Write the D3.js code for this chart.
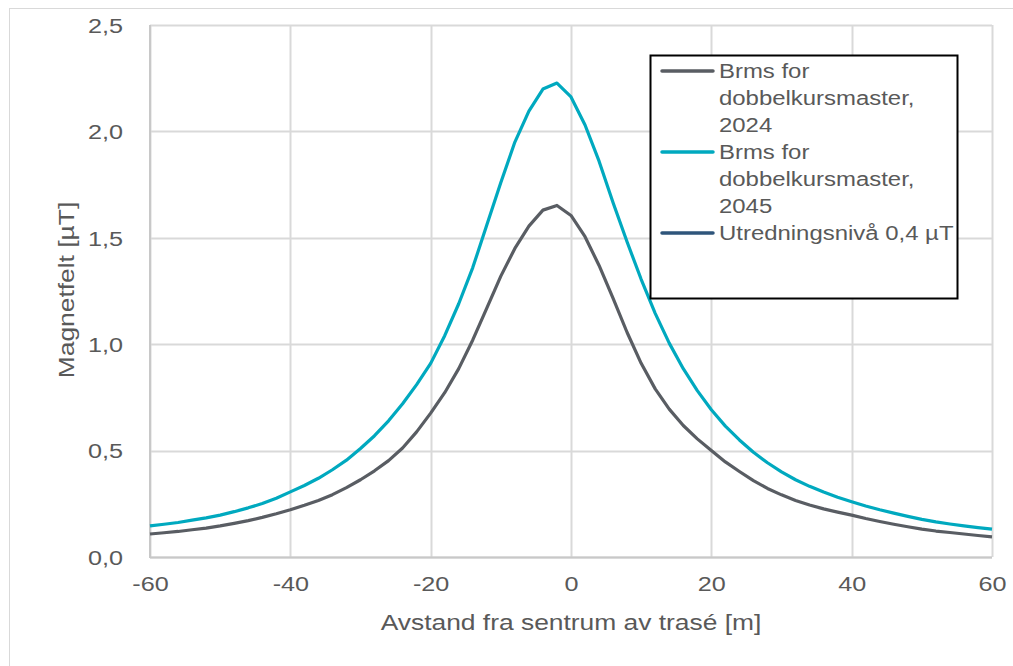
<!DOCTYPE html>
<html>
<head>
<meta charset="utf-8">
<script src="https://cdn.jsdelivr.net/npm/d3@7"></script>
<style>
  html, body { margin: 0; padding: 0; background: #fff; }
  svg { display: block; font-family: "Liberation Sans", Arial, sans-serif; }
</style>
</head>
<body>
<svg id="chart" width="1013" height="666"></svg>
<script>
// Distance from the centre of the route [m]
const distances = d3.range(-60, 61, 2);

// Brms for dobbelkursmaster, 2024 [µT]
const brms2024 = [
  0.108, 0.114, 0.120, 0.128, 0.136, 0.146, 0.158, 0.171, 0.186, 0.203,
  0.222, 0.243, 0.266, 0.293, 0.326, 0.363, 0.405, 0.453, 0.512, 0.588,
  0.676, 0.772, 0.885, 1.020, 1.170, 1.320, 1.450, 1.555, 1.630, 1.652,
  1.605, 1.505, 1.370, 1.215, 1.055, 0.910, 0.790, 0.695, 0.618, 0.555,
  0.500, 0.447, 0.402, 0.359, 0.322, 0.292, 0.266, 0.244, 0.226, 0.211,
  0.197, 0.181, 0.167, 0.154, 0.142, 0.131, 0.122, 0.115, 0.108, 0.101,
  0.095
];

// Brms for dobbelkursmaster, 2045 [µT]
const brms2045 = [
  0.146, 0.154, 0.162, 0.173, 0.184, 0.197, 0.213, 0.231, 0.251, 0.276,
  0.306, 0.336, 0.370, 0.410, 0.455, 0.510, 0.570, 0.640, 0.720, 0.810,
  0.910, 1.040, 1.190, 1.360, 1.560, 1.760, 1.950, 2.095, 2.199, 2.227,
  2.162, 2.030, 1.860, 1.665, 1.480, 1.305, 1.145, 1.005, 0.885, 0.782,
  0.692, 0.615, 0.550, 0.492, 0.443, 0.400, 0.363, 0.332, 0.305, 0.281,
  0.260, 0.240, 0.222, 0.206, 0.191, 0.177, 0.165, 0.155, 0.146, 0.138,
  0.131
];

// Third legend series (no visible points in the plot)
const utredningsniva = [];

const seriesNames = [
  ["Brms for", "dobbelkursmaster,", "2024"],
  ["Brms for", "dobbelkursmaster,", "2045"],
  ["Utredningsnivå 0,4 µT"]
];
const seriesColors = ["#595d63", "#00a9bf", "#2f557b"];

const xTicks = [-60, -40, -20, 0, 20, 40, 60];
const yTicks = [0, 0.5, 1.0, 1.5, 2.0, 2.5];
const xTitle = "Avstand fra sentrum av trasé [m]";
const yTitle = "Magnetfelt [µT]";

const svg = d3.select("#chart");
const textColor = "#595959";
const gridColor = "#d9d9d9";
const stretch = 1.2;

// outer chart border
svg.append("rect")
  .attr("x", 9.5).attr("y", 8.5)
  .attr("width", 1010).attr("height", 670)
  .attr("fill", "none").attr("stroke", "#d9d9d9").attr("stroke-width", 1);

const x = d3.scaleLinear().domain([-60, 60]).range([150, 992]);
const y = d3.scaleLinear().domain([0, 2.5]).range([557, 25]);

// grid
svg.append("g").selectAll("line").data(xTicks).join("line")
  .attr("x1", d => Math.round(x(d)) + 0.5).attr("x2", d => Math.round(x(d)) + 0.5)
  .attr("y1", y(2.5)).attr("y2", y(0))
  .attr("stroke", gridColor).attr("stroke-width", 2);
svg.append("g").selectAll("line").data(yTicks).join("line")
  .attr("x1", x(-60)).attr("x2", x(60))
  .attr("y1", d => Math.round(y(d)) + 0.5).attr("y2", d => Math.round(y(d)) + 0.5)
  .attr("stroke", gridColor).attr("stroke-width", 2);

// axis lines
svg.append("line").attr("x1", x(-60)).attr("x2", x(-60)).attr("y1", y(2.5)).attr("y2", y(0) + 1)
  .attr("stroke", "#c8c8c8").attr("stroke-width", 2);
svg.append("line").attr("x1", x(-60)).attr("x2", x(60)).attr("y1", y(0) + 0.5).attr("y2", y(0) + 0.5)
  .attr("stroke", "#c8c8c8").attr("stroke-width", 2);

// axes (labels only)
const fmt = d => d3.format(".1f")(d).replace(".", ",");
const yAxis = d3.axisLeft(y).tickValues(yTicks).tickFormat(fmt).tickSize(0).tickPadding(0);
const gy = svg.append("g").attr("transform", "translate(123,0)").call(yAxis);
gy.select(".domain").remove();
gy.selectAll("text").attr("font-size", 21).attr("fill", textColor)
  .attr("font-family", "Liberation Sans, Arial, sans-serif").attr("dy", "0.35em")
  .attr("transform", `scale(${stretch},1)`);

const xAxis = d3.axisBottom(x).tickValues(xTicks).tickFormat(d3.format("d")).tickSize(0).tickPadding(0);
const gx = svg.append("g").attr("transform", "translate(0,576)").call(xAxis);
gx.select(".domain").remove();
gx.selectAll("text").attr("font-size", 21).attr("fill", textColor)
  .attr("font-family", "Liberation Sans, Arial, sans-serif").attr("dy", "0.71em")
  .attr("transform", `scale(${stretch},1)`)
  .text(d => d < 0 ? "-" + Math.abs(d) : String(d));

// axis titles
svg.append("text").attr("transform", `translate(571,630) scale(${stretch},1)`).attr("text-anchor", "middle")
  .attr("font-size", 22).attr("fill", textColor).text(xTitle);
svg.append("text").attr("transform", `translate(74,290) rotate(-90) scale(${stretch},1)`).attr("text-anchor", "middle")
  .attr("font-size", 22).attr("fill", textColor).text(yTitle);

// lines
const line = d3.line().x((d, i) => x(distances[i])).y(d => y(d));
[brms2024, brms2045].forEach((vals, k) => {
  svg.append("path").datum(vals)
    .attr("fill", "none").attr("stroke", seriesColors[k])
    .attr("stroke-width", 3.2).attr("stroke-linejoin", "round")
    .attr("d", line);
});
if (utredningsniva.length) {
  svg.append("path").datum(utredningsniva).attr("fill", "none")
    .attr("stroke", seriesColors[2]).attr("stroke-width", 3.2).attr("d", line);
}

// legend
const lg = svg.append("g");
lg.append("rect").attr("x", 650.5).attr("y", 55.5).attr("width", 307).attr("height", 243)
  .attr("fill", "#fff").attr("stroke", "#000").attr("stroke-width", 2);
const lineH = 27;
const groupTops = [71, 152, 233];
seriesNames.forEach((rows, k) => {
  const cy = groupTops[k];
  lg.append("line").attr("x1", 662).attr("x2", 713).attr("y1", cy).attr("y2", cy)
    .attr("stroke", seriesColors[k]).attr("stroke-width", 3.5).attr("stroke-linecap", "round");
  rows.forEach((r, j) => {
    lg.append("text").attr("transform", `translate(719,${cy + j * lineH}) scale(1.14,1)`)
      .attr("dy", "0.35em")
      .attr("font-size", 21).attr("fill", textColor).text(r);
  });
});
</script>
</body>
</html>
